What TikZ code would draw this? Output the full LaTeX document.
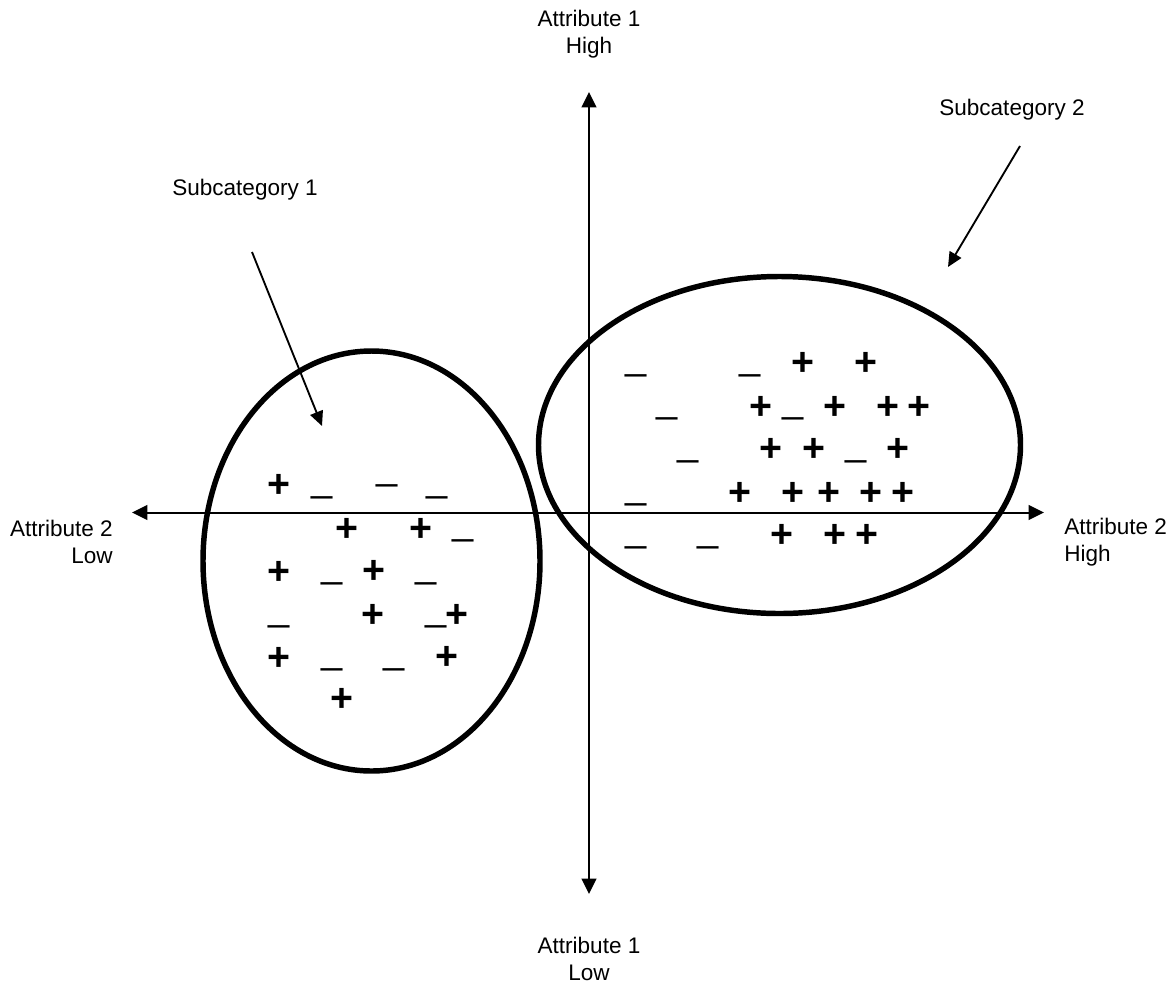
\documentclass[tikz,border=0pt]{standalone}
\usepackage{fontspec}
\setmainfont{Liberation Sans}
\usetikzlibrary{arrows.meta}
\begin{document}
\begin{tikzpicture}[x=0.75pt,y=-0.75pt,
  lbl/.style={font=\fontsize{16.9}{20.3}\selectfont, inner sep=0pt},
  axis/.style={line width=1.5pt, {Triangle[length=11.5pt,width=11pt]}-{Triangle[length=11.5pt,width=11pt]}},
  pointer/.style={line width=1.4pt, -{Triangle[length=11pt,width=10pt]}},
  cluster/.style={line width=4.1pt},
  pl/.style={font=\fontsize{29.5}{30}\selectfont\bfseries, inner sep=0pt, anchor=base},
  mi/.style={font=\fontsize{28.5}{30}\selectfont, inner sep=0pt, anchor=base}]
\useasboundingbox (0,0) rectangle (1174,986);
% axes
\coordinate (vtop) at (589,92);
\coordinate (vbot) at (589,894);
\coordinate (hleft) at (132,512.5);
\coordinate (hright) at (1044,512.5);
\draw[axis] (vbot) -- (vtop);
\draw[axis] (hleft) -- (hright);
% labels
\node[lbl, align=center] (a1h) at (589,34) {Attribute 1\\High};
\node[lbl, align=center] (a1l) at (589,959) {Attribute 1\\Low};
\node[lbl, align=right, anchor=east] (a2l) at (113,542) {Attribute 2\\Low};
\node[lbl, align=left, anchor=west] (a2h) at (1064,542) {Attribute 2\\High};
\node[lbl] (s1) at (245,190) {Subcategory 1};
\node[lbl] (s2) at (1012,110) {Subcategory 2};
% clusters
\draw[cluster] (371.5,561) ellipse [x radius=168.5, y radius=210];
\draw[cluster] (779.5,445) ellipse [x radius=241, y radius=168.5];
% pointers
\coordinate (p1s) at (252,252);
\coordinate (p1e) at (322,426);
\coordinate (p2s) at (1020,146);
\coordinate (p2e) at (948,267);
\draw[pointer] (p1s) -- (p1e);
\draw[pointer] (p2s) -- (p2e);
% subcategory 1 signs
\foreach \x/\y [count=\i] in {279.3/484.3, 346.7/528.3, 420.7/527.7, 279.3/571, 374/570.3, 372.7/613.7, 456.7/613.7, 279.3/656.7, 446.7/656, 342/698.3}
  \node[pl] (pa\i) at (\x,\y+13.5) {+};
\foreach \x/\y [count=\i] in {321.7/497.3, 387.3/485.3, 437.3/497.3, 462.7/540.3, 332.3/583.3, 426.3/583.3, 279/626, 435.7/626, 332.3/669.3, 394.3/669.3}
  \node[mi] (ma\i) at (\x,\y-5.7) {\_};
% subcategory 2 signs
\foreach \x/\y [count=\i] in {802.7/362.3, 866/362.3, 761/405.7, 835/405.7, 887.7/405.7, 919.3/405.7, 771.3/448.3, 813.7/448.3, 898/448.3, 740.3/492, 793.3/492, 828.7/492, 871/492, 903/492, 781.7/534.3, 834.7/534.3, 867/534.3}
  \node[pl] (pb\i) at (\x,\y+13.5) {+};
\foreach \x/\y [count=\i] in {636/375, 750/375, 667.3/418.3, 793/418.3, 688/461, 856/461, 636/503.7, 636/547.3, 708.3/547.3}
  \node[mi] (mb\i) at (\x,\y-5.7) {\_};
\end{tikzpicture}
\end{document}
